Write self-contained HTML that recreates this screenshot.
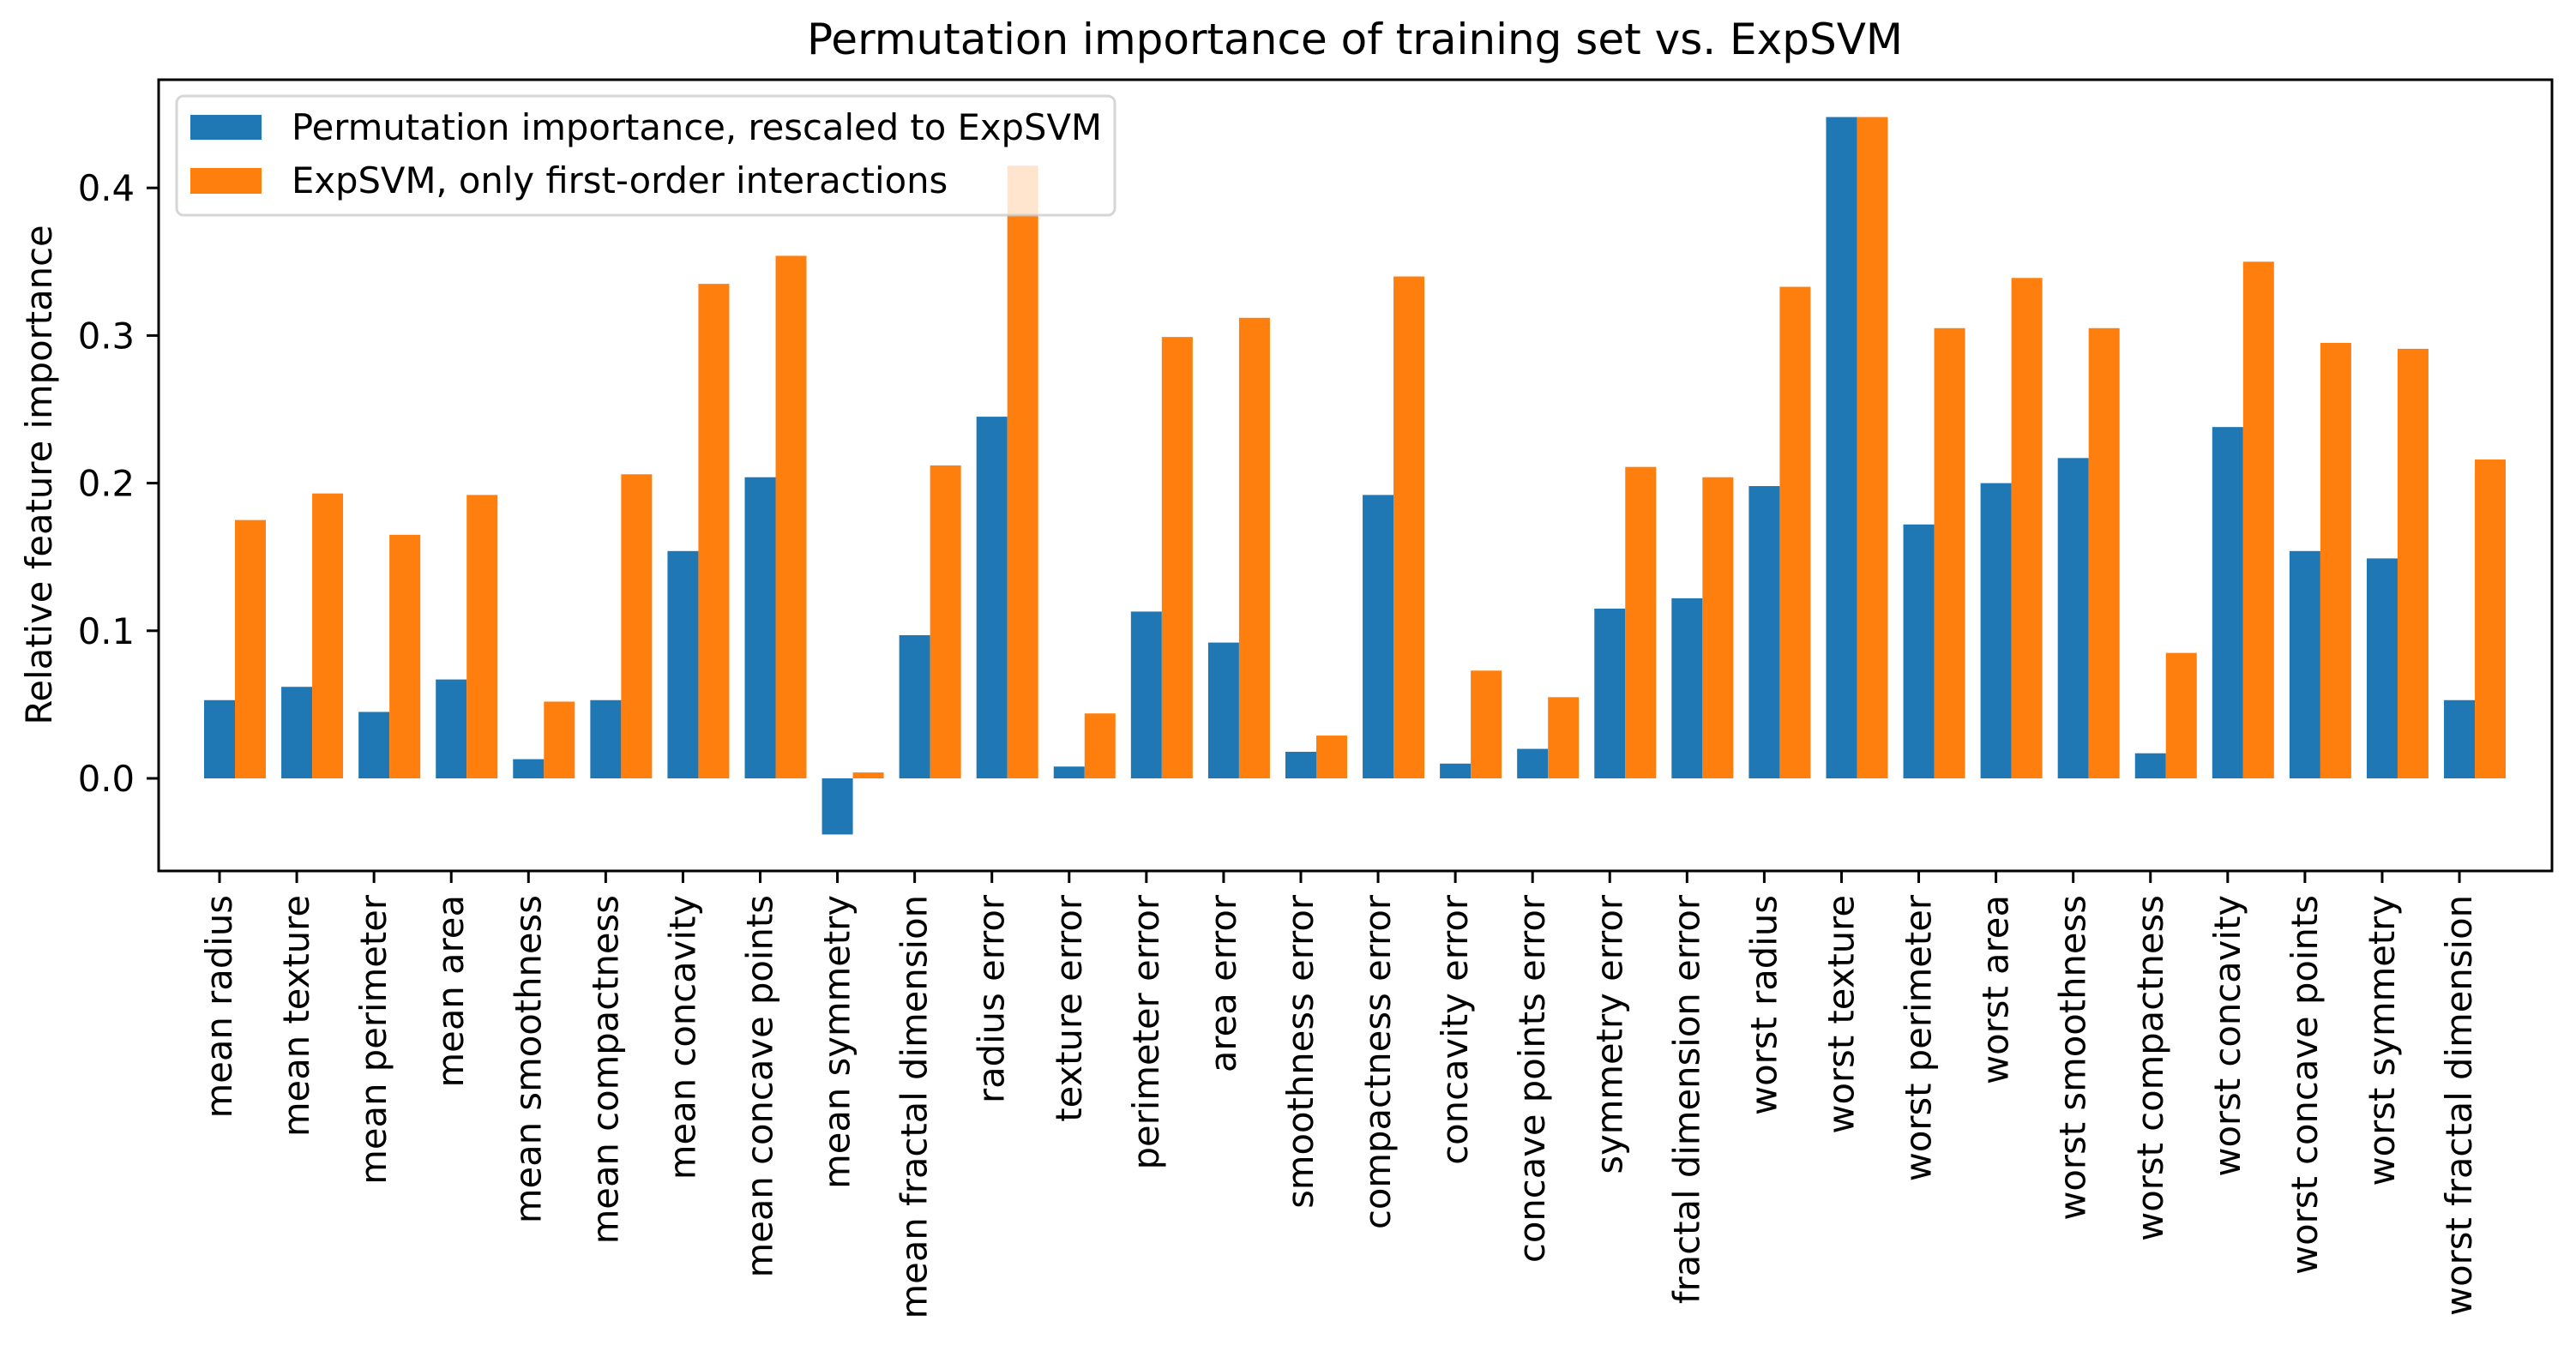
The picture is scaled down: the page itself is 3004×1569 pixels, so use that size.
<!DOCTYPE html>
<html><head><meta charset="utf-8"><style>
html,body{margin:0;padding:0;background:#fff}
svg{display:block;font-family:"DejaVu Sans","Liberation Sans",sans-serif}
</style></head><body>
<svg id="chart" width="3004" height="1569" viewBox="0 0 3004 1569" xmlns="http://www.w3.org/2000/svg">
<text x="1580" y="63" font-size="50" text-anchor="middle">Permutation importance of training set vs. ExpSVM</text>
<text transform="translate(60,554) rotate(-90)" font-size="41.7" text-anchor="middle">Relative feature importance</text>
<g id="bars"></g>
<g id="yticks"></g>
<g id="xticks"></g>
<rect x="185" y="93" width="2791" height="923" fill="none" stroke="#000" stroke-width="3"/>
<g>
<rect x="206" y="112" width="1094" height="139" rx="8" fill="#fff" fill-opacity="0.8" stroke="#ccc" stroke-opacity="0.8" stroke-width="3"/>
<rect x="222" y="134" width="83" height="29" fill="#1f77b4"/>
<text x="340" y="163" font-size="41.7">Permutation importance, rescaled to ExpSVM</text>
<rect x="222" y="196" width="83" height="30" fill="#ff7f0e"/>
<text x="340" y="225" font-size="41.7">ExpSVM, only first-order interactions</text>
</g>
</svg>
<script>
const categories = ["mean radius","mean texture","mean perimeter","mean area","mean smoothness","mean compactness","mean concavity","mean concave points","mean symmetry","mean fractal dimension","radius error","texture error","perimeter error","area error","smoothness error","compactness error","concavity error","concave points error","symmetry error","fractal dimension error","worst radius","worst texture","worst perimeter","worst area","worst smoothness","worst compactness","worst concavity","worst concave points","worst symmetry","worst fractal dimension"];
const permutationValues = [0.053,0.062,0.045,0.067,0.013,0.053,0.154,0.204,-0.038,0.097,0.245,0.008,0.113,0.092,0.018,0.192,0.010,0.020,0.115,0.122,0.198,0.448,0.172,0.200,0.217,0.017,0.238,0.154,0.149,0.053];
const expsvmValues = [0.175,0.193,0.165,0.192,0.052,0.206,0.335,0.354,0.004,0.212,0.415,0.044,0.299,0.312,0.029,0.340,0.073,0.055,0.211,0.204,0.333,0.448,0.305,0.339,0.305,0.085,0.350,0.295,0.291,0.216];
const yTickValues = [0.0,0.1,0.2,0.3,0.4];
const yTickLabels = ["0.0","0.1","0.2","0.3","0.4"];

const NS="http://www.w3.org/2000/svg";
const y = v => 908 - v*1722;
const x = i => 256 + i*90.07;
const bw = 36;
function mk(tag, attrs){const e=document.createElementNS(NS,tag);for(const k in attrs)e.setAttribute(k,attrs[k]);return e;}
const bars=document.getElementById('bars');
categories.forEach((c,i)=>{
  [[permutationValues,'#1f77b4',0,'permutation'],[expsvmValues,'#ff7f0e',bw,'expsvm']].forEach(([arr,col,off,nm])=>{
    const v=arr[i];const y0=y(0),y1=y(v);
    const r=mk('rect',{x:x(i)+off-bw/2,y:Math.min(y0,y1),width:bw,height:Math.abs(y1-y0),fill:col});
    
    
    bars.appendChild(r);
  });
  const xt=document.getElementById('xticks');
  const t=mk('line',{x1:x(i),x2:x(i),y1:1016,y2:1030,stroke:'#000','stroke-width':3});
  
  
  xt.appendChild(t);
  const lb=mk('text',{transform:`translate(${x(i)+14},1044) rotate(-90)`,'font-size':41.7,'text-anchor':'end'});
  
  
  lb.textContent=c;xt.appendChild(lb);
});
const yt=document.getElementById('yticks');
yTickValues.forEach((v,i)=>{
  const t=mk('line',{x1:171,x2:185,y1:y(v),y2:y(v),stroke:'#000','stroke-width':3});
  
  
  yt.appendChild(t);
  const lb=mk('text',{x:157,y:y(v)+15,'font-size':41.7,'text-anchor':'end'});
  
  
  lb.textContent=yTickLabels[i];yt.appendChild(lb);
});
</script>
</body></html>
